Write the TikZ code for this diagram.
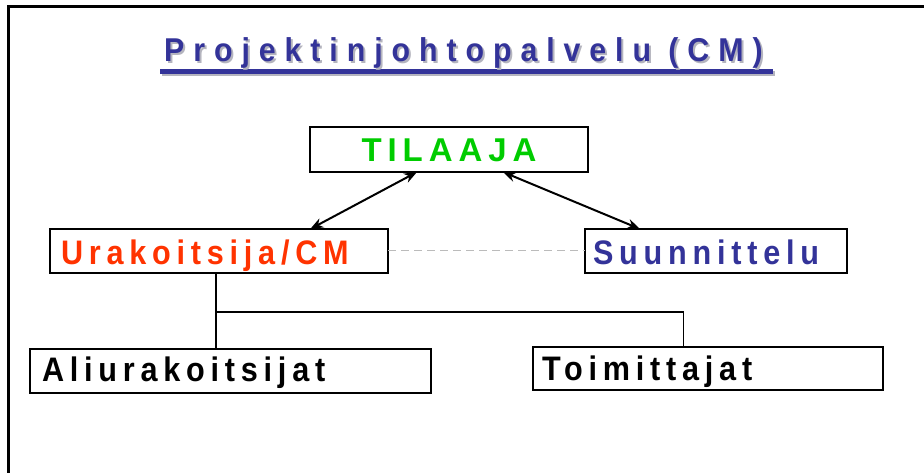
\documentclass[tikz,border=0pt]{standalone}
\usepackage{fontspec}
\setmainfont{Liberation Sans}
\newfontfamily\boxfont{Liberation Sans}[LetterSpace=17,FakeStretch=0.9]
\newfontfamily\topfont{Liberation Sans}[LetterSpace=18]
\newfontfamily\headfont{Liberation Sans}[LetterSpace=27,FakeStretch=0.92]
\usetikzlibrary{arrows.meta,calc}
\definecolor{headblue}{HTML}{333399}
\definecolor{clientgreen}{HTML}{00CC00}
\definecolor{cmred}{HTML}{FF3300}
\definecolor{shadowgray}{HTML}{B4B4BE}
\definecolor{dashgray}{HTML}{BBBBBB}
\tikzset{
  orgbox/.style={draw, line width=2pt, outer sep=0pt, inner ysep=0pt,
    anchor=north west, align=left, font=\boxfont\bfseries\fontsize{34}{34}\selectfont},
  link/.style={line width=2pt, {Stealth[length=13pt,width=10pt]}-{Stealth[length=13pt,width=10pt]}},
  tree/.style={line width=1.6pt},
  headtext/.style={inner sep=0pt, anchor=base west, font=\headfont\bfseries\fontsize{33}{33}\selectfont}
}
\begin{document}
\begin{tikzpicture}[x=1pt,y=-1pt]
\useasboundingbox (0,0) rectangle (924,473);
\fill[white] (0,0) rectangle (924,473);

% outer frame (left and top edges)
\draw[line width=3pt] (8,480) -- (8,7) -- (930,7);

% heading with its shadow and underline
\fill[shadowgray] (162,71) rectangle (775,76);
\fill[headblue] (160,69) rectangle (773,74);
\node[headtext, text=shadowgray] (headshadow) at (166,64) {Projektinjohtopalvelu (CM)};
\node[headtext, text=headblue] (head) at (164,62) {Projektinjohtopalvelu (CM)};

% boxes
\node[orgbox, text width=278pt, inner xsep=0pt, align=center, minimum height=45pt,
  text height=35pt, text depth=10pt, text=clientgreen,
  font=\topfont\bfseries\fontsize{33}{33}\selectfont] (tilaaja) at (310,127) {TILAAJA};
\node[orgbox, inner xsep=11pt, text width=316pt, minimum height=44pt,
  text height=36pt, text depth=8pt, text=cmred] (ura) at (50,229) {Urakoitsija/CM};
\node[orgbox, inner xsep=8pt, text width=246pt, minimum height=44pt,
  text height=36pt, text depth=8pt, text=headblue] (suun) at (585,229) {Suunnittelu};
\node[orgbox, inner xsep=12pt, text width=377pt, minimum height=44pt,
  text height=32pt, text depth=12pt] (ali) at (30,349) {Aliurakoitsijat};
\node[orgbox, inner xsep=9pt, text width=332pt, minimum height=43pt,
  text height=33pt, text depth=10pt] (toim) at (533,347) {Toimittajat};

% two-way links to the client
\draw[link] ($(tilaaja.south west)!0.385!(tilaaja.south east)$) -- ($(ura.north west)!0.77!(ura.north east)$);
\draw[link] ($(tilaaja.south west)!0.694!(tilaaja.south east)$) -- ($(suun.north west)!0.21!(suun.north east)$);

% coordination line between contractor and design
\draw[dashgray, line width=1pt, dash pattern=on 8pt off 5pt] (ura.east) -- (suun.west);

% contractor's subordinate tree
\coordinate (stem) at ($(ura.south west)!0.491!(ura.south east)$);
\coordinate (branch) at ($(stem)+(0,39)$);
\coordinate (toimtop) at ($(toim.north west)!0.43!(toim.north east)$);
\draw[tree] (stem) -- (stem |- ali.north);
\draw[tree] (branch) -| (toimtop);
\end{tikzpicture}
\end{document}
